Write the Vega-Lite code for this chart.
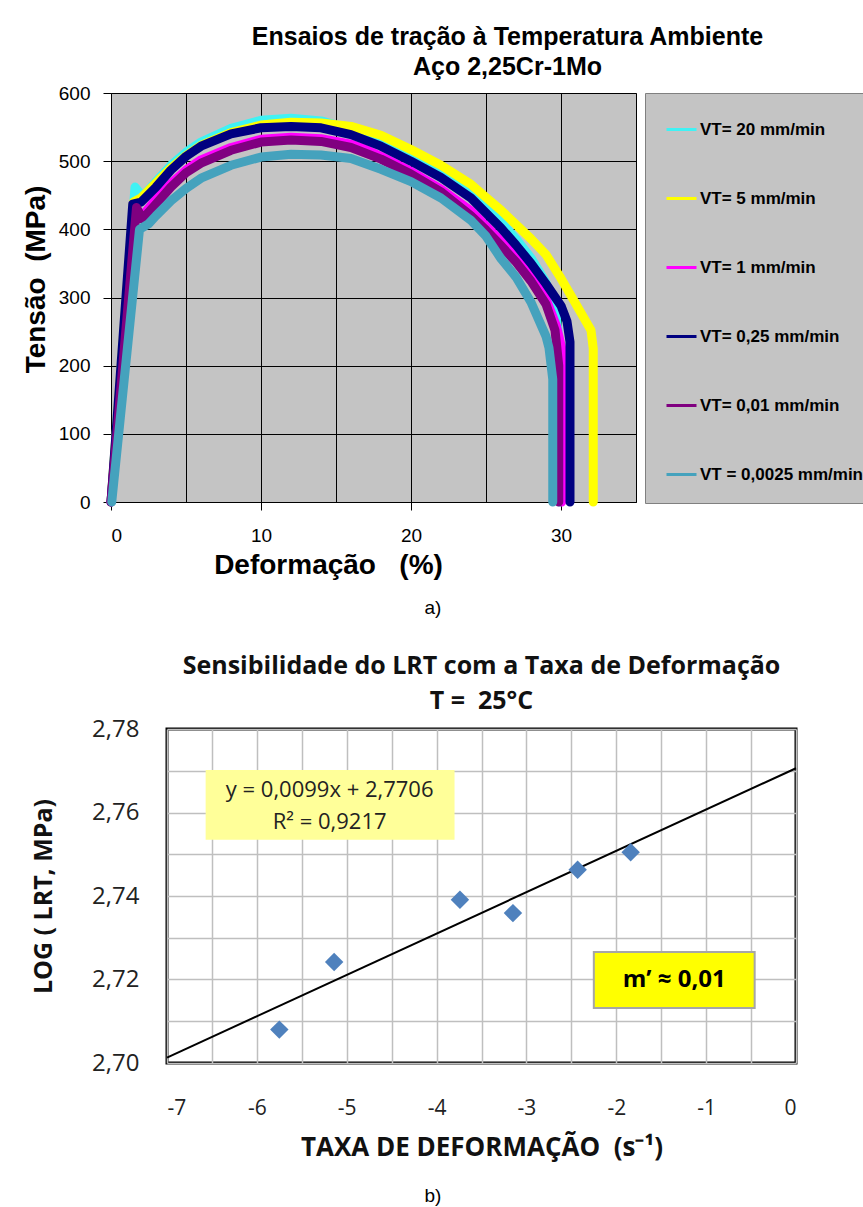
{
  "$schema": "https://vega.github.io/schema/vega-lite/v6.json",
  "background": "white",
  "padding": {"left": 20, "top": 24, "right": 0, "bottom": 0},
  "columns": 1,
  "align": "none",
  "spacing": 0,
  "resolve": {"legend": {"color": "independent"}, "scale": {"color": "independent"}},
  "config": {"view": {"stroke": null}},
  "datasets": {
    "curvas": [
      {"serie": "VT= 20 mm/min", "ordem": 1, "deformacao": 0, "tensao": 0},
      {"serie": "VT= 20 mm/min", "ordem": 2, "deformacao": 1.6, "tensao": 462},
      {"serie": "VT= 20 mm/min", "ordem": 3, "deformacao": 2.1, "tensao": 448},
      {"serie": "VT= 20 mm/min", "ordem": 4, "deformacao": 3, "tensao": 470},
      {"serie": "VT= 20 mm/min", "ordem": 5, "deformacao": 4, "tensao": 494},
      {"serie": "VT= 20 mm/min", "ordem": 6, "deformacao": 5, "tensao": 513},
      {"serie": "VT= 20 mm/min", "ordem": 7, "deformacao": 6, "tensao": 528},
      {"serie": "VT= 20 mm/min", "ordem": 8, "deformacao": 8, "tensao": 548},
      {"serie": "VT= 20 mm/min", "ordem": 9, "deformacao": 10, "tensao": 560},
      {"serie": "VT= 20 mm/min", "ordem": 10, "deformacao": 12, "tensao": 563},
      {"serie": "VT= 20 mm/min", "ordem": 11, "deformacao": 14, "tensao": 559},
      {"serie": "VT= 20 mm/min", "ordem": 12, "deformacao": 16, "tensao": 547},
      {"serie": "VT= 20 mm/min", "ordem": 13, "deformacao": 18, "tensao": 530},
      {"serie": "VT= 20 mm/min", "ordem": 14, "deformacao": 20, "tensao": 509},
      {"serie": "VT= 20 mm/min", "ordem": 15, "deformacao": 22, "tensao": 485},
      {"serie": "VT= 20 mm/min", "ordem": 16, "deformacao": 24, "tensao": 455},
      {"serie": "VT= 20 mm/min", "ordem": 17, "deformacao": 25, "tensao": 434},
      {"serie": "VT= 20 mm/min", "ordem": 18, "deformacao": 26, "tensao": 411},
      {"serie": "VT= 20 mm/min", "ordem": 19, "deformacao": 27, "tensao": 386},
      {"serie": "VT= 20 mm/min", "ordem": 20, "deformacao": 28, "tensao": 358},
      {"serie": "VT= 20 mm/min", "ordem": 21, "deformacao": 29, "tensao": 322},
      {"serie": "VT= 20 mm/min", "ordem": 22, "deformacao": 29.7, "tensao": 270},
      {"serie": "VT= 20 mm/min", "ordem": 23, "deformacao": 29.9, "tensao": 230},
      {"serie": "VT= 20 mm/min", "ordem": 24, "deformacao": 29.9, "tensao": 0},

      {"serie": "VT= 5 mm/min", "ordem": 1, "deformacao": 0, "tensao": 0},
      {"serie": "VT= 5 mm/min", "ordem": 2, "deformacao": 1.5, "tensao": 440},
      {"serie": "VT= 5 mm/min", "ordem": 3, "deformacao": 2, "tensao": 446},
      {"serie": "VT= 5 mm/min", "ordem": 4, "deformacao": 3, "tensao": 468},
      {"serie": "VT= 5 mm/min", "ordem": 5, "deformacao": 4, "tensao": 490},
      {"serie": "VT= 5 mm/min", "ordem": 6, "deformacao": 5, "tensao": 508},
      {"serie": "VT= 5 mm/min", "ordem": 7, "deformacao": 6, "tensao": 523},
      {"serie": "VT= 5 mm/min", "ordem": 8, "deformacao": 8, "tensao": 542},
      {"serie": "VT= 5 mm/min", "ordem": 9, "deformacao": 10, "tensao": 553},
      {"serie": "VT= 5 mm/min", "ordem": 10, "deformacao": 12, "tensao": 557},
      {"serie": "VT= 5 mm/min", "ordem": 11, "deformacao": 14, "tensao": 556},
      {"serie": "VT= 5 mm/min", "ordem": 12, "deformacao": 16, "tensao": 551},
      {"serie": "VT= 5 mm/min", "ordem": 13, "deformacao": 18, "tensao": 538},
      {"serie": "VT= 5 mm/min", "ordem": 14, "deformacao": 20, "tensao": 517},
      {"serie": "VT= 5 mm/min", "ordem": 15, "deformacao": 22, "tensao": 494},
      {"serie": "VT= 5 mm/min", "ordem": 16, "deformacao": 24, "tensao": 466},
      {"serie": "VT= 5 mm/min", "ordem": 17, "deformacao": 25, "tensao": 447},
      {"serie": "VT= 5 mm/min", "ordem": 18, "deformacao": 26, "tensao": 428},
      {"serie": "VT= 5 mm/min", "ordem": 19, "deformacao": 27, "tensao": 407},
      {"serie": "VT= 5 mm/min", "ordem": 20, "deformacao": 28, "tensao": 386},
      {"serie": "VT= 5 mm/min", "ordem": 21, "deformacao": 29, "tensao": 363},
      {"serie": "VT= 5 mm/min", "ordem": 22, "deformacao": 30, "tensao": 328},
      {"serie": "VT= 5 mm/min", "ordem": 23, "deformacao": 31, "tensao": 290},
      {"serie": "VT= 5 mm/min", "ordem": 24, "deformacao": 32, "tensao": 252},
      {"serie": "VT= 5 mm/min", "ordem": 25, "deformacao": 32.15, "tensao": 225},
      {"serie": "VT= 5 mm/min", "ordem": 26, "deformacao": 32.15, "tensao": 0},

      {"serie": "VT= 1 mm/min", "ordem": 1, "deformacao": 0, "tensao": 0},
      {"serie": "VT= 1 mm/min", "ordem": 2, "deformacao": 1.6, "tensao": 428},
      {"serie": "VT= 1 mm/min", "ordem": 3, "deformacao": 2.1, "tensao": 420},
      {"serie": "VT= 1 mm/min", "ordem": 4, "deformacao": 3, "tensao": 444},
      {"serie": "VT= 1 mm/min", "ordem": 5, "deformacao": 4, "tensao": 467},
      {"serie": "VT= 1 mm/min", "ordem": 6, "deformacao": 5, "tensao": 487},
      {"serie": "VT= 1 mm/min", "ordem": 7, "deformacao": 6, "tensao": 502},
      {"serie": "VT= 1 mm/min", "ordem": 8, "deformacao": 8, "tensao": 520},
      {"serie": "VT= 1 mm/min", "ordem": 9, "deformacao": 10, "tensao": 532},
      {"serie": "VT= 1 mm/min", "ordem": 10, "deformacao": 12, "tensao": 535},
      {"serie": "VT= 1 mm/min", "ordem": 11, "deformacao": 14, "tensao": 533},
      {"serie": "VT= 1 mm/min", "ordem": 12, "deformacao": 16, "tensao": 525},
      {"serie": "VT= 1 mm/min", "ordem": 13, "deformacao": 17, "tensao": 517},
      {"serie": "VT= 1 mm/min", "ordem": 14, "deformacao": 18, "tensao": 507},
      {"serie": "VT= 1 mm/min", "ordem": 15, "deformacao": 20, "tensao": 485},
      {"serie": "VT= 1 mm/min", "ordem": 16, "deformacao": 22, "tensao": 459},
      {"serie": "VT= 1 mm/min", "ordem": 17, "deformacao": 24, "tensao": 427},
      {"serie": "VT= 1 mm/min", "ordem": 18, "deformacao": 25, "tensao": 405},
      {"serie": "VT= 1 mm/min", "ordem": 19, "deformacao": 26, "tensao": 383},
      {"serie": "VT= 1 mm/min", "ordem": 20, "deformacao": 27, "tensao": 359},
      {"serie": "VT= 1 mm/min", "ordem": 21, "deformacao": 28, "tensao": 331},
      {"serie": "VT= 1 mm/min", "ordem": 22, "deformacao": 29, "tensao": 298},
      {"serie": "VT= 1 mm/min", "ordem": 23, "deformacao": 29.7, "tensao": 258},
      {"serie": "VT= 1 mm/min", "ordem": 24, "deformacao": 30.05, "tensao": 225},
      {"serie": "VT= 1 mm/min", "ordem": 25, "deformacao": 30.05, "tensao": 0},

      {"serie": "VT= 0,25 mm/min", "ordem": 1, "deformacao": 0, "tensao": 0},
      {"serie": "VT= 0,25 mm/min", "ordem": 2, "deformacao": 1.45, "tensao": 437},
      {"serie": "VT= 0,25 mm/min", "ordem": 3, "deformacao": 2, "tensao": 440},
      {"serie": "VT= 0,25 mm/min", "ordem": 4, "deformacao": 3, "tensao": 462},
      {"serie": "VT= 0,25 mm/min", "ordem": 5, "deformacao": 4, "tensao": 487},
      {"serie": "VT= 0,25 mm/min", "ordem": 6, "deformacao": 5, "tensao": 507},
      {"serie": "VT= 0,25 mm/min", "ordem": 7, "deformacao": 6, "tensao": 522},
      {"serie": "VT= 0,25 mm/min", "ordem": 8, "deformacao": 8, "tensao": 540},
      {"serie": "VT= 0,25 mm/min", "ordem": 9, "deformacao": 10, "tensao": 549},
      {"serie": "VT= 0,25 mm/min", "ordem": 10, "deformacao": 12, "tensao": 551},
      {"serie": "VT= 0,25 mm/min", "ordem": 11, "deformacao": 14, "tensao": 549},
      {"serie": "VT= 0,25 mm/min", "ordem": 12, "deformacao": 16, "tensao": 539},
      {"serie": "VT= 0,25 mm/min", "ordem": 13, "deformacao": 18, "tensao": 522},
      {"serie": "VT= 0,25 mm/min", "ordem": 14, "deformacao": 20, "tensao": 500},
      {"serie": "VT= 0,25 mm/min", "ordem": 15, "deformacao": 22, "tensao": 476},
      {"serie": "VT= 0,25 mm/min", "ordem": 16, "deformacao": 24, "tensao": 446},
      {"serie": "VT= 0,25 mm/min", "ordem": 17, "deformacao": 25, "tensao": 424},
      {"serie": "VT= 0,25 mm/min", "ordem": 18, "deformacao": 26, "tensao": 402},
      {"serie": "VT= 0,25 mm/min", "ordem": 19, "deformacao": 27, "tensao": 377},
      {"serie": "VT= 0,25 mm/min", "ordem": 20, "deformacao": 28, "tensao": 350},
      {"serie": "VT= 0,25 mm/min", "ordem": 21, "deformacao": 29, "tensao": 320},
      {"serie": "VT= 0,25 mm/min", "ordem": 22, "deformacao": 30, "tensao": 288},
      {"serie": "VT= 0,25 mm/min", "ordem": 23, "deformacao": 30.4, "tensao": 265},
      {"serie": "VT= 0,25 mm/min", "ordem": 24, "deformacao": 30.6, "tensao": 235},
      {"serie": "VT= 0,25 mm/min", "ordem": 25, "deformacao": 30.6, "tensao": 0},

      {"serie": "VT= 0,01 mm/min", "ordem": 1, "deformacao": 0, "tensao": 0},
      {"serie": "VT= 0,01 mm/min", "ordem": 2, "deformacao": 1.7, "tensao": 432},
      {"serie": "VT= 0,01 mm/min", "ordem": 3, "deformacao": 2.1, "tensao": 415},
      {"serie": "VT= 0,01 mm/min", "ordem": 4, "deformacao": 3, "tensao": 437},
      {"serie": "VT= 0,01 mm/min", "ordem": 5, "deformacao": 4, "tensao": 462},
      {"serie": "VT= 0,01 mm/min", "ordem": 6, "deformacao": 5, "tensao": 483},
      {"serie": "VT= 0,01 mm/min", "ordem": 7, "deformacao": 6, "tensao": 497},
      {"serie": "VT= 0,01 mm/min", "ordem": 8, "deformacao": 8, "tensao": 516},
      {"serie": "VT= 0,01 mm/min", "ordem": 9, "deformacao": 10, "tensao": 528},
      {"serie": "VT= 0,01 mm/min", "ordem": 10, "deformacao": 12, "tensao": 531},
      {"serie": "VT= 0,01 mm/min", "ordem": 11, "deformacao": 14, "tensao": 529},
      {"serie": "VT= 0,01 mm/min", "ordem": 12, "deformacao": 16, "tensao": 520},
      {"serie": "VT= 0,01 mm/min", "ordem": 13, "deformacao": 18, "tensao": 503},
      {"serie": "VT= 0,01 mm/min", "ordem": 14, "deformacao": 20, "tensao": 481},
      {"serie": "VT= 0,01 mm/min", "ordem": 15, "deformacao": 22, "tensao": 455},
      {"serie": "VT= 0,01 mm/min", "ordem": 16, "deformacao": 24, "tensao": 420},
      {"serie": "VT= 0,01 mm/min", "ordem": 17, "deformacao": 25, "tensao": 399},
      {"serie": "VT= 0,01 mm/min", "ordem": 18, "deformacao": 26, "tensao": 376},
      {"serie": "VT= 0,01 mm/min", "ordem": 19, "deformacao": 27, "tensao": 352},
      {"serie": "VT= 0,01 mm/min", "ordem": 20, "deformacao": 28, "tensao": 324},
      {"serie": "VT= 0,01 mm/min", "ordem": 21, "deformacao": 29, "tensao": 290},
      {"serie": "VT= 0,01 mm/min", "ordem": 22, "deformacao": 29.6, "tensao": 252},
      {"serie": "VT= 0,01 mm/min", "ordem": 23, "deformacao": 29.85, "tensao": 200},
      {"serie": "VT= 0,01 mm/min", "ordem": 24, "deformacao": 29.85, "tensao": 0},

      {"serie": "VT = 0,0025 mm/min", "ordem": 1, "deformacao": 0.05, "tensao": 0},
      {"serie": "VT = 0,0025 mm/min", "ordem": 2, "deformacao": 1.9, "tensao": 400},
      {"serie": "VT = 0,0025 mm/min", "ordem": 3, "deformacao": 2.5, "tensao": 408},
      {"serie": "VT = 0,0025 mm/min", "ordem": 4, "deformacao": 3, "tensao": 420},
      {"serie": "VT = 0,0025 mm/min", "ordem": 5, "deformacao": 4, "tensao": 442},
      {"serie": "VT = 0,0025 mm/min", "ordem": 6, "deformacao": 5, "tensao": 460},
      {"serie": "VT = 0,0025 mm/min", "ordem": 7, "deformacao": 6, "tensao": 475},
      {"serie": "VT = 0,0025 mm/min", "ordem": 8, "deformacao": 8, "tensao": 494},
      {"serie": "VT = 0,0025 mm/min", "ordem": 9, "deformacao": 10, "tensao": 506},
      {"serie": "VT = 0,0025 mm/min", "ordem": 10, "deformacao": 12, "tensao": 510},
      {"serie": "VT = 0,0025 mm/min", "ordem": 11, "deformacao": 14, "tensao": 509},
      {"serie": "VT = 0,0025 mm/min", "ordem": 12, "deformacao": 16, "tensao": 504},
      {"serie": "VT = 0,0025 mm/min", "ordem": 13, "deformacao": 18, "tensao": 488},
      {"serie": "VT = 0,0025 mm/min", "ordem": 14, "deformacao": 20, "tensao": 470},
      {"serie": "VT = 0,0025 mm/min", "ordem": 15, "deformacao": 22, "tensao": 446},
      {"serie": "VT = 0,0025 mm/min", "ordem": 16, "deformacao": 24, "tensao": 413},
      {"serie": "VT = 0,0025 mm/min", "ordem": 17, "deformacao": 25, "tensao": 390},
      {"serie": "VT = 0,0025 mm/min", "ordem": 18, "deformacao": 26, "tensao": 357},
      {"serie": "VT = 0,0025 mm/min", "ordem": 19, "deformacao": 27, "tensao": 330},
      {"serie": "VT = 0,0025 mm/min", "ordem": 20, "deformacao": 28, "tensao": 293},
      {"serie": "VT = 0,0025 mm/min", "ordem": 21, "deformacao": 29, "tensao": 243},
      {"serie": "VT = 0,0025 mm/min", "ordem": 22, "deformacao": 29.2, "tensao": 226},
      {"serie": "VT = 0,0025 mm/min", "ordem": 23, "deformacao": 29.45, "tensao": 180},
      {"serie": "VT = 0,0025 mm/min", "ordem": 24, "deformacao": 29.45, "tensao": 0}
    ],
    "pontos": [
      {"taxa": -5.75, "log_lrt": 2.708},
      {"taxa": -5.14, "log_lrt": 2.7242},
      {"taxa": -3.74, "log_lrt": 2.7391},
      {"taxa": -3.15, "log_lrt": 2.7359},
      {"taxa": -2.43, "log_lrt": 2.7463},
      {"taxa": -1.84, "log_lrt": 2.7505}
    ],
    "tendencia": [
      {"taxa": -7, "log_lrt": 2.7013},
      {"taxa": 0, "log_lrt": 2.7706}
    ]
  },
  "concat": [
    {
      "hconcat": [
        {
          "width": 1,
          "height": 1,
          "data": {"values": [{"vazio": ""}]},
          "mark": {"type": "text", "opacity": 0},
          "encoding": {"text": {"field": "vazio", "type": "nominal"}}
        },
        {
          "width": 525,
          "height": 409,
          "view": {"fill": "#C4C4C4", "stroke": "#808080"},
          "title": {
            "text": ["Ensaios de tração à Temperatura Ambiente", "Aço 2,25Cr-1Mo"],
            "font": "Liberation Sans", "fontSize": 25, "fontWeight": "bold", "color": "black",
            "lineHeight": 30, "anchor": "middle", "dx": 134, "offset": 4
          },
          "data": {"name": "curvas"},
          "mark": {"type": "line", "strokeWidth": 9, "strokeJoin": "round", "strokeCap": "round", "clip": false},
          "encoding": {
            "x": {
              "field": "deformacao", "type": "quantitative",
              "scale": {"domain": [0, 35], "nice": false, "zero": false},
              "axis": {
                "values": [0, 5, 10, 15, 20, 25, 30, 35],
                "labelExpr": "datum.value % 10 === 0 ? datum.label : ''",
                "grid": true, "gridColor": "black", "gridOpacity": 1, "gridWidth": 1,
                "domainColor": "black",
                "tickColor": {"condition": {"test": "datum.value % 10 === 0", "value": "black"}, "value": "transparent"},
                "tickSize": 8, "labelPadding": 16,
                "labelFont": "Liberation Sans", "labelFontSize": 19, "labelColor": "black",
                "title": "Deformação\u00a0\u00a0 (%)", "titleFont": "Liberation Sans", "titleFontSize": 28,
                "titleFontWeight": "bold", "titleColor": "black", "titlePadding": 6, "titleX": 217
              }
            },
            "y": {
              "field": "tensao", "type": "quantitative",
              "scale": {"domain": [0, 600], "nice": false},
              "axis": {
                "values": [0, 100, 200, 300, 400, 500, 600],
                "grid": true, "gridColor": "black", "gridOpacity": 1, "gridWidth": 1,
                "domainColor": "black", "tickColor": "black", "tickSize": 8, "labelPadding": 13,
                "labelFont": "Liberation Sans", "labelFontSize": 19, "labelColor": "black",
                "title": "Tensão\u00a0 (MPa)", "titleFont": "Liberation Sans", "titleFontSize": 28,
                "titleFontWeight": "bold", "titleColor": "black", "titlePadding": 8, "titleY": 186
              }
            },
            "color": {
              "field": "serie", "type": "nominal",
              "scale": {
                "domain": ["VT= 20 mm/min", "VT= 5 mm/min", "VT= 1 mm/min", "VT= 0,25 mm/min", "VT= 0,01 mm/min", "VT = 0,0025 mm/min"],
                "range": ["#40F2F4", "#FFFF00", "#FF00FF", "#000080", "#800080", "#45A2BD"]
              },
              "legend": {
                "title": null, "orient": "right", "offset": 9, "padding": 20, "rowPadding": 44,
                "fillColor": "#C4C4C4", "strokeColor": "#808080",
                "symbolType": "stroke", "symbolSize": 900, "symbolStrokeWidth": 3,
                "labelFont": "Liberation Sans", "labelFontSize": 17, "labelFontWeight": "bold",
                "labelColor": "black", "labelLimit": 300, "labelOffset": 2
              }
            },
            "order": {"field": "ordem", "type": "quantitative"}
          }
        }
      ],
      "spacing": 0,
      "resolve": {"legend": {"color": "independent"}, "scale": {"color": "independent"}}
    },
    {
      "width": 826,
      "height": 72,
      "data": {"values": [{"rotulo": "a)"}]},
      "mark": {"type": "text", "font": "Liberation Sans", "fontSize": 19, "color": "black", "dy": -8},
      "encoding": {"text": {"field": "rotulo", "type": "nominal"}}
    },
    {
      "hconcat": [
        {
          "width": 1,
          "height": 1,
          "data": {"values": [{"vazio": ""}]},
          "mark": {"type": "text", "opacity": 0},
          "encoding": {"text": {"field": "vazio", "type": "nominal"}}
        },
        {
          "width": 629,
          "height": 334,
          "view": {"fill": "white", "stroke": "black", "strokeWidth": 3},
          "title": {
            "text": ["Sensibilidade do LRT com a Taxa de Deformação", "T =\u00a0 25°C"],
            "font": "Open Sans", "fontSize": 25, "fontWeight": "bold", "color": "#111111",
            "lineHeight": 35, "anchor": "middle", "offset": 3
          },
          "layer": [
            {
              "data": {"values": [{}]},
              "mark": {"type": "rect", "fill": "#FFFF99"},
              "encoding": {
                "x": {"datum": -6.57, "type": "quantitative", "title": "TAXA DE DEFORMAÇÃO\u00a0 (s⁻¹)"},
                "x2": {"datum": -3.8},
                "y": {"datum": 2.7702, "type": "quantitative", "title": "LOG ( LRT, MPa)"},
                "y2": {"datum": 2.7535}
              }
            },
            {
              "data": {"values": [{}]},
              "mark": {"type": "text", "font": "Open Sans", "fontSize": 22, "color": "#222222", "lineHeight": 32, "baseline": "middle"},
              "encoding": {
                "x": {"datum": -5.19, "type": "quantitative", "title": "TAXA DE DEFORMAÇÃO\u00a0 (s⁻¹)"},
                "y": {"datum": 2.7654, "type": "quantitative", "title": "LOG ( LRT, MPa)"},
                "text": {"value": ["y = 0,0099x + 2,7706", "R² = 0,9217"]}
              }
            },
            {
              "data": {"values": [{}]},
              "mark": {"type": "rect", "fill": "#FFFF00", "stroke": "#A6A6A6", "strokeWidth": 2},
              "encoding": {
                "x": {"datum": -2.25, "type": "quantitative", "title": "TAXA DE DEFORMAÇÃO\u00a0 (s⁻¹)"},
                "x2": {"datum": -0.46},
                "y": {"datum": 2.7266, "type": "quantitative", "title": "LOG ( LRT, MPa)"},
                "y2": {"datum": 2.7132}
              }
            },
            {
              "data": {"values": [{}]},
              "mark": {"type": "text", "font": "Open Sans", "fontSize": 24, "fontWeight": "bold", "color": "black", "baseline": "middle"},
              "encoding": {
                "x": {"datum": -1.355, "type": "quantitative", "title": "TAXA DE DEFORMAÇÃO\u00a0 (s⁻¹)"},
                "y": {"datum": 2.7199, "type": "quantitative", "title": "LOG ( LRT, MPa)"},
                "text": {"value": "m’ ≈ 0,01"}
              }
            },
            {
              "data": {"name": "tendencia"},
              "mark": {"type": "line", "color": "black", "strokeWidth": 2},
              "encoding": {
                "x": {"field": "taxa", "type": "quantitative", "title": "TAXA DE DEFORMAÇÃO\u00a0 (s⁻¹)"},
                "y": {"field": "log_lrt", "type": "quantitative", "title": "LOG ( LRT, MPa)"}
              }
            },
            {
              "data": {"name": "pontos"},
              "mark": {"type": "point", "shape": "diamond", "filled": true, "color": "#4F81BD", "size": 340, "opacity": 1},
              "encoding": {
                "x": {
                  "field": "taxa", "type": "quantitative", "title": "TAXA DE DEFORMAÇÃO\u00a0 (s⁻¹)",
                  "scale": {"domain": [-7, 0], "nice": false, "zero": false},
                  "axis": {
                    "values": [-7, -6.5, -6, -5.5, -5, -4.5, -4, -3.5, -3, -2.5, -2, -1.5, -1, -0.5, 0],
                    "labelExpr": "datum.value % 1 === 0 ? '' + datum.value : ''",
                    "grid": true, "gridColor": "#BFBFBF", "gridOpacity": 1, "gridWidth": 1.5,
                    "domain": false, "ticks": false, "labelPadding": 34,
                    "labelFont": "Open Sans", "labelFontSize": 21, "labelColor": "#222222",
                    "titleFont": "Open Sans", "titleFontSize": 26,
                    "titleFontWeight": "bold", "titleColor": "#111111", "titlePadding": 16
                  }
                },
                "y": {
                  "field": "log_lrt", "type": "quantitative", "title": "LOG ( LRT, MPa)",
                  "scale": {"domain": [2.70, 2.78], "nice": false, "zero": false},
                  "axis": {
                    "values": [2.70, 2.71, 2.72, 2.73, 2.74, 2.75, 2.76, 2.77, 2.78],
                    "labelExpr": "round(datum.value * 100) % 2 === 0 ? replace(format(datum.value, '.2f'), '.', ',') : ''",
                    "grid": true, "gridColor": "#BFBFBF", "gridOpacity": 1, "gridWidth": 1.5,
                    "domain": false, "ticks": false, "labelPadding": 28,
                    "labelFont": "Open Sans", "labelFontSize": 24, "labelColor": "#222222",
                    "titleFont": "Open Sans", "titleFontSize": 25,
                    "titleFontWeight": "bold", "titleColor": "#111111", "titlePadding": 35
                  }
                }
              }
            }
          ]
        }
      ],
      "spacing": 9
    },
    {
      "width": 826,
      "height": 60,
      "data": {"values": [{"rotulo": "b)"}]},
      "mark": {"type": "text", "font": "Liberation Sans", "fontSize": 19, "color": "black", "dy": 4},
      "encoding": {"text": {"field": "rotulo", "type": "nominal"}}
    }
  ]
}
